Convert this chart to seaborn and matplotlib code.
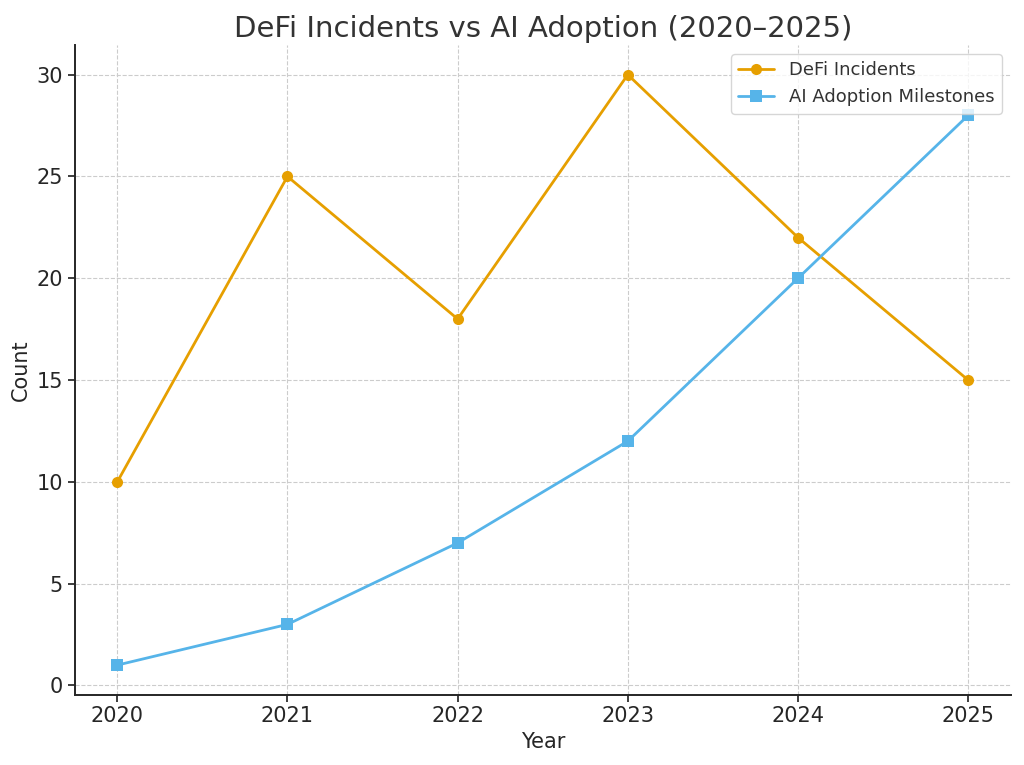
import matplotlib

matplotlib.use("Agg")
import matplotlib.pyplot as plt
import pandas as pd
import seaborn as sns

years = [2020, 2021, 2022, 2023, 2024, 2025]
defi_incidents = [10, 25, 18, 30, 22, 15]
ai_milestones = [1, 3, 7, 12, 20, 28]

sns.set_theme(style="ticks")
plt.rcParams["font.family"] = ["DejaVu Sans"]

df = pd.DataFrame({"Year": years, "DeFi Incidents": defi_incidents,
                   "AI Adoption Milestones": ai_milestones})

fig, ax = plt.subplots(figsize=(10.24, 7.65), dpi=100)
fig.subplots_adjust(left=0.073, right=0.987, top=0.941, bottom=0.092)

sns.lineplot(data=df, x="Year", y="DeFi Incidents", marker="o", color="#E69F00",
             linewidth=2, markersize=8, markeredgewidth=0, label="DeFi Incidents", ax=ax)
sns.lineplot(data=df, x="Year", y="AI Adoption Milestones", marker="s", color="#56B4E9",
             linewidth=2, markersize=8, markeredgewidth=0, label="AI Adoption Milestones", ax=ax)

ax.grid(True, linestyle="--", color="#cccccc", linewidth=0.8)
ax.set_xticks(years)
ax.set_yticks([0, 5, 10, 15, 20, 25, 30])
ax.tick_params(labelsize=15, colors="#262626", length=5)
ax.set_xlabel("Year", fontsize=15, color="#262626")
ax.set_ylabel("Count", fontsize=15, color="#262626")
ax.set_title("DeFi Incidents vs AI Adoption (2020–2025)", fontsize=21, color="#333333")
for s in ["left", "bottom"]:
    ax.spines[s].set_linewidth(1.4)
    ax.spines[s].set_color("#262626")
sns.despine(ax=ax)
leg = ax.legend(loc="upper right", fontsize=13, frameon=True)
for t in leg.get_texts():
    t.set_color("#333333")

fig.savefig("out.png", dpi=100)
